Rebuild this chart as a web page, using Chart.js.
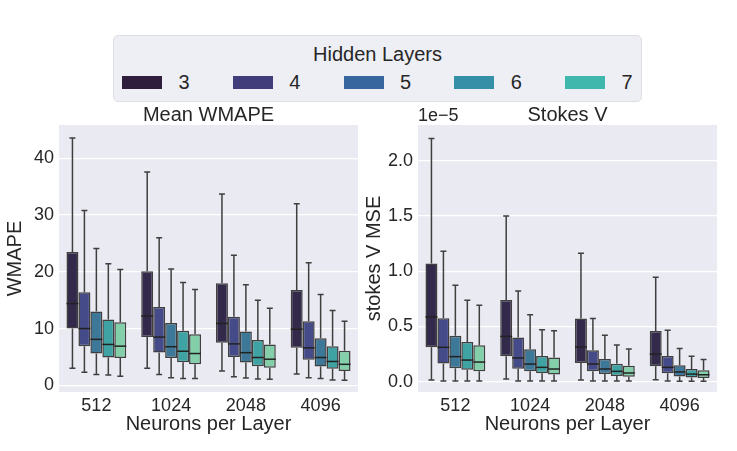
<!DOCTYPE html>
<html>
<head>
<meta charset="utf-8">
<script src="https://cdn.jsdelivr.net/npm/chart.js@4.4.1/dist/chart.umd.min.js"></script>
<style>
  body { margin: 0; background: #fff; width: 737px; height: 451px; overflow: hidden; position: relative;
         font-family: "Liberation Sans", Arial, sans-serif; color: #262626; }
  .panel { position: absolute; top: 100px; width: 368px; height: 351px; }
  #legend { position: absolute; left: 113px; top: 35px; width: 527px; height: 65px; background: #eeeef5;
            border: 1px solid #dedee4; border-radius: 5px; z-index: 2; }
  #legend .title { position: absolute; left: 0; right: 0; top: 7px; text-align: center; font-size: 20px; line-height: 22px; }
  #legend .sw { position: absolute; top: 40px; width: 40px; height: 13px; }
  #legend .lab { position: absolute; top: 35px; width: 30px; text-align: center; font-size: 20px; line-height: 22px; }
</style>
</head>
<body>
<div id="legend"><div class="title">Hidden Layers</div></div>
<div class="panel" style="left:0px"><canvas id="wmape"></canvas></div>
<div class="panel" style="left:359px"><canvas id="stokes"></canvas></div>
<script>
const categories = ['512', '1024', '2048', '4096']
const hiddenLayers = [3, 4, 5, 6, 7]
const legendColors = ['#2e1e3b', '#413d7b', '#37659e', '#348fa7', '#40b7ad']
const boxColors = ['#33294a', '#454b89', '#3d7899', '#3fa3a3', '#82cfaa']
const edgeColor = '#3f3f3f'
const textColor = '#262626'
const fontFamily = '"Liberation Sans", Arial, sans-serif'

// Mean WMAPE, rows = hidden layers, columns = neurons per layer
const wmapeLow = [
  [3.0, 3.0, 2.5, 2.0],
  [2.3, 1.9, 1.5, 1.35],
  [1.9, 1.35, 1.3, 1.2],
  [1.8, 1.2, 1.1, 0.95],
  [1.6, 1.2, 1.05, 0.9],
]
const wmapeQ1 = [
  [10.0, 8.5, 7.5, 6.6],
  [6.9, 5.8, 5.0, 4.5],
  [5.6, 4.8, 4.0, 3.3],
  [4.9, 4.05, 3.35, 2.9],
  [4.8, 3.7, 3.1, 2.5],
]
const wmapeMed = [
  [14.4, 12.2, 10.9, 9.9],
  [10.0, 8.5, 7.3, 6.6],
  [8.1, 6.8, 5.75, 4.9],
  [7.2, 6.0, 4.9, 4.2],
  [6.9, 5.6, 4.6, 3.7],
]
const wmapeQ3 = [
  [23.5, 20.1, 18.0, 16.8],
  [16.4, 13.8, 12.1, 11.3],
  [13.0, 11.0, 9.5, 8.3],
  [11.6, 9.6, 8.0, 6.9],
  [11.1, 9.0, 7.2, 6.1],
]
const wmapeHigh = [
  [43.6, 37.6, 33.7, 32.0],
  [30.8, 26.0, 22.9, 21.6],
  [24.1, 20.5, 17.7, 16.0],
  [21.4, 18.1, 15.0, 13.2],
  [20.4, 16.9, 13.6, 11.3],
]
const wmapeTicks = [0, 10, 20, 30, 40]

// Stokes V MSE, in units of 1e-5
const stokesLow = [
  [0.015, 0.024, 0.015, 0.018],
  [0.006, 0.006, 0.006, 0.006],
  [0.006, 0.006, 0.006, 0.005],
  [0.006, 0.006, 0.006, 0.005],
  [0.006, 0.006, 0.006, 0.005],
]
const stokesQ1 = [
  [0.311, 0.23, 0.169, 0.139],
  [0.166, 0.118, 0.094, 0.076],
  [0.121, 0.094, 0.069, 0.048],
  [0.109, 0.076, 0.051, 0.039],
  [0.094, 0.066, 0.045, 0.033],
]
const stokesMed = [
  [0.586, 0.41, 0.314, 0.25],
  [0.311, 0.215, 0.16, 0.13],
  [0.227, 0.16, 0.115, 0.088],
  [0.196, 0.13, 0.094, 0.069],
  [0.178, 0.115, 0.079, 0.063],
]
const stokesQ3 = [
  [1.07, 0.74, 0.571, 0.459],
  [0.574, 0.40, 0.284, 0.233],
  [0.417, 0.293, 0.205, 0.148],
  [0.36, 0.233, 0.163, 0.115],
  [0.33, 0.22, 0.145, 0.103],
]
const stokesHigh = [
  [2.20, 1.50, 1.163, 0.946],
  [1.18, 0.82, 0.571, 0.465],
  [0.873, 0.607, 0.42, 0.30],
  [0.737, 0.47, 0.332, 0.23],
  [0.692, 0.462, 0.296, 0.202],
]
const stokesTicks = [0, 0.5, 1.0, 1.5, 2.0]

// legend
const legendEl = document.getElementById('legend')
hiddenLayers.forEach((h, i) => {
  const left = 8 + i * 110.75
  const sw = document.createElement('div')
  sw.className = 'sw'
  sw.style.left = left + 'px'
  sw.style.background = legendColors[i]
  legendEl.appendChild(sw)
  const lab = document.createElement('div')
  lab.className = 'lab'
  lab.style.left = left + 62 - 15 + 'px'
  lab.textContent = String(h)
  legendEl.appendChild(lab)
})

const plotBg = {
  id: 'plotBg',
  beforeDraw(chart) {
    const { ctx, chartArea: a } = chart
    ctx.save()
    ctx.fillStyle = '#eaeaf2'
    ctx.fillRect(a.left, a.top, a.right - a.left, a.bottom - a.top)
    ctx.restore()
  },
}

// whiskers + caps behind the boxes, median lines on top
const boxParts = {
  id: 'boxParts',
  beforeDatasetsDraw(chart) {
    const ctx = chart.ctx
    const y = chart.scales.y
    ctx.save()
    ctx.strokeStyle = edgeColor
    ctx.lineWidth = 1.5
    chart.data.datasets.forEach((ds, i) => {
      chart.getDatasetMeta(i).data.forEach((bar, j) => {
        const cap = bar.width / 4
        const yLo = y.getPixelForValue(ds.low[j])
        const yHi = y.getPixelForValue(ds.high[j])
        const yQ1 = y.getPixelForValue(ds.data[j][0])
        const yQ3 = y.getPixelForValue(ds.data[j][1])
        ctx.beginPath()
        ctx.moveTo(bar.x, yQ3)
        ctx.lineTo(bar.x, yHi)
        ctx.moveTo(bar.x, yQ1)
        ctx.lineTo(bar.x, yLo)
        ctx.moveTo(bar.x - cap, yHi)
        ctx.lineTo(bar.x + cap, yHi)
        ctx.moveTo(bar.x - cap, yLo)
        ctx.lineTo(bar.x + cap, yLo)
        ctx.stroke()
      })
    })
    ctx.restore()
  },
  afterDatasetsDraw(chart) {
    const ctx = chart.ctx
    const y = chart.scales.y
    ctx.save()
    ctx.strokeStyle = '#222'
    ctx.lineWidth = 1.5
    chart.data.datasets.forEach((ds, i) => {
      chart.getDatasetMeta(i).data.forEach((bar, j) => {
        const ym = y.getPixelForValue(ds.med[j])
        ctx.beginPath()
        ctx.moveTo(bar.x - bar.width / 2, ym)
        ctx.lineTo(bar.x + bar.width / 2, ym)
        ctx.stroke()
      })
    })
    ctx.restore()
  },
}

// axes title centred over the plot area, plus the matplotlib-style offset text
const axTitle = {
  id: 'axTitle',
  afterDraw(chart, args, opts) {
    const { ctx, chartArea: a } = chart
    ctx.save()
    ctx.fillStyle = textColor
    ctx.textBaseline = 'middle'
    ctx.font = '20px ' + fontFamily
    ctx.textAlign = 'center'
    ctx.fillText(opts.title, (a.left + a.right) / 2, a.top - 10)
    if (opts.offset) {
      ctx.font = '18px ' + fontFamily
      ctx.textAlign = 'left'
      ctx.fillText(opts.offset, a.left, a.top - 9)
    }
    ctx.restore()
  },
}

function makeChart(id, title, yTitle, low, q1, med, q3, high, yMin, yMax, yTicks, fmt, offset) {
  return new Chart(document.getElementById(id), {
    type: 'bar',
    data: {
      labels: categories,
      datasets: hiddenLayers.map((h, i) => ({
        label: String(h),
        data: categories.map((c, j) => [q1[i][j], q3[i][j]]),
        low: low[i],
        med: med[i],
        high: high[i],
        backgroundColor: boxColors[i],
        borderColor: edgeColor,
        borderWidth: 1.5,
        borderSkipped: false,
        categoryPercentage: 0.8,
        barPercentage: 1.0,
      })),
    },
    options: {
      responsive: true,
      maintainAspectRatio: false,
      animation: false,
      layout: { padding: { left: 0, right: 10, top: 25, bottom: 0 } },
      plugins: {
        legend: { display: false },
        tooltip: { enabled: false },
        title: { display: false },
        axTitle: { title: title, offset: offset },
      },
      scales: {
        x: {
          grid: { display: false, drawTicks: false },
          border: { display: false },
          ticks: { color: textColor, font: { size: 18, family: fontFamily }, padding: 3 },
          title: {
            display: true,
            text: 'Neurons per Layer',
            color: textColor,
            font: { size: 20, family: fontFamily, lineHeight: 1 },
            padding: { top: 0, bottom: 17 },
          },
          afterFit(s) { s.height = 59 },
        },
        y: {
          min: yMin,
          max: yMax,
          grid: { color: '#ffffff', lineWidth: 1.2, drawTicks: false },
          border: { display: false },
          ticks: { color: textColor, font: { size: 18, family: fontFamily }, padding: 5, callback: fmt },
          afterBuildTicks(s) { s.ticks = yTicks.map((v) => ({ value: v })) },
          title: {
            display: true,
            text: yTitle,
            color: textColor,
            font: { size: 20, family: fontFamily, lineHeight: 1 },
            padding: { top: 5, bottom: 0 },
          },
          afterFit(s) { s.width = 59 },
        },
      },
    },
    plugins: [plotBg, boxParts, axTitle],
  })
}

makeChart('wmape', 'Mean WMAPE', 'WMAPE', wmapeLow, wmapeQ1, wmapeMed, wmapeQ3, wmapeHigh,
  -1.18, 45.87, wmapeTicks, (v) => String(v), '')
makeChart('stokes', 'Stokes V', 'stokes V MSE', stokesLow, stokesQ1, stokesMed, stokesQ3, stokesHigh,
  -0.093, 2.323, stokesTicks, (v) => v.toFixed(1), '1e\u22125')
</script>
</body>
</html>
